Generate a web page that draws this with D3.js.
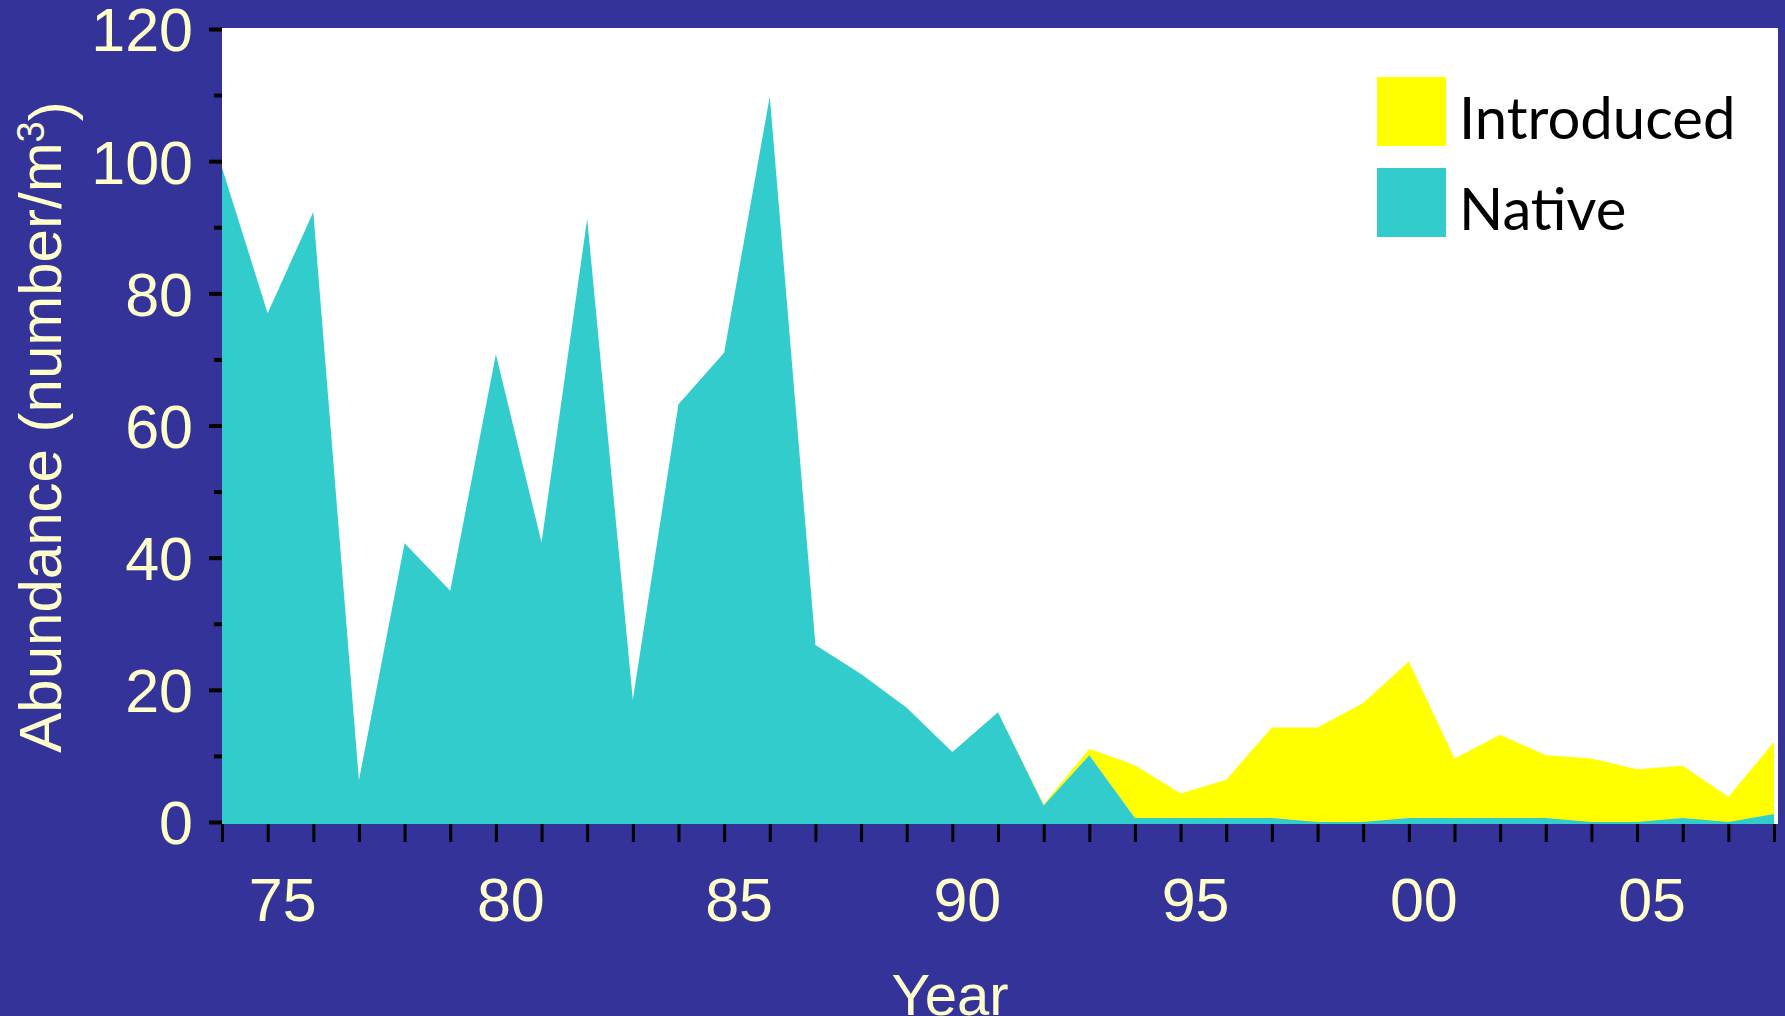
<!DOCTYPE html>
<html>
<head>
<meta charset="utf-8">
<script src="https://cdn.jsdelivr.net/npm/d3@7"></script>
<style>
  html, body { margin: 0; padding: 0; background: #333399; }
  svg { display: block; }
</style>
</head>
<body>
<script>
// ---- data ----
const years = [1974, 1975, 1976, 1977, 1978, 1979, 1980, 1981, 1982, 1983, 1984, 1985,
  1986, 1987, 1988, 1989, 1990, 1991, 1992, 1993, 1994, 1995, 1996, 1997, 1998, 1999,
  2000, 2001, 2002, 2003, 2004, 2005, 2006, 2007, 2008];
const native = [99, 77, 92.3, 6.3, 42.2, 35, 70.8, 42.3, 91.3, 18.5, 63.2, 71, 109.8,
  26.8, 22.4, 17.3, 10.6, 16.6, 2.5, 10.1, 0.6, 0.6, 0.6, 0.6, 0, 0, 0.6, 0.6, 0.6,
  0.6, 0, 0, 0.6, 0, 1.2];
const introduced = [0, 0, 0, 0, 0, 0, 0, 0, 0, 0, 0, 0, 0, 0, 0, 0, 0, 0, 0.2, 1.0,
  8.0, 3.7, 5.8, 13.7, 14.3, 18, 23.7, 9.0, 12.6, 9.5, 9.6, 8, 7.9, 3.8, 10.9];
const seriesKeys = ["native", "introduced"];
const seriesNames = {native: "Native", introduced: "Introduced"};
const legendOrder = ["introduced", "native"];
const yMajorTicks = [0, 20, 40, 60, 80, 100, 120];
const yMinorTicks = [10, 30, 50, 70, 90, 110];
const xLabelYears = [1975, 1980, 1985, 1990, 1995, 2000, 2005];
const xLabels = ["75", "80", "85", "90", "95", "00", "05"];
const yTitle = "Abundance (number/m";
const xTitle = "Year";

// ---- layout ----
const W = 1785, H = 1016;
const plot = {left: 222, right: 1778, top: 28, bottom: 824};
const colors = {bg: "#333399", native: "#33CCCC", introduced: "#FFFF00", text: "#FFFFCC"};
const axisFont = "'Liberation Sans', Arial, sans-serif";

const svg = d3.select("body").append("svg").attr("width", W).attr("height", H);
svg.append("rect").attr("width", W).attr("height", H).attr("fill", colors.bg);
svg.append("rect").attr("x", plot.left).attr("y", plot.top)
  .attr("width", plot.right - plot.left).attr("height", plot.bottom - plot.top)
  .attr("fill", "#ffffff");

const x = d3.scaleLinear().domain([1974, 2008]).range([222, 1774]);
const y = d3.scaleLinear().domain([0, 120]).range([822, 29]);

const table = years.map((yr, i) => ({year: yr, native: native[i], introduced: introduced[i]}));
const stacked = d3.stack().keys(seriesKeys)(table);

const area = d3.area()
  .x(d => x(d.data.year))
  .y0(d => d[0] === 0 ? plot.bottom : y(d[0]))
  .y1(d => y(d[1]));

// draw introduced first then native on top (stacked, native at bottom)
svg.append("g").selectAll("path").data(stacked.slice().reverse()).join("path")
  .attr("d", area)
  .attr("fill", d => colors[d.key]);

// ---- y axis ----
const yAxisMajor = d3.axisLeft(y).tickValues(yMajorTicks).tickSize(13).tickPadding(16)
  .tickFormat(d3.format("d"));
const gy = svg.append("g").attr("transform", `translate(${plot.left},0)`).call(yAxisMajor);
gy.select(".domain").remove();
gy.selectAll(".tick line").attr("stroke", "#000").attr("stroke-width", 4);
gy.selectAll(".tick text").attr("fill", colors.text)
  .style("font-family", axisFont).style("font-size", "61px").attr("dy", "0.36em");

const yAxisMinor = d3.axisLeft(y).tickValues(yMinorTicks).tickSize(8).tickFormat("");
const gy2 = svg.append("g").attr("transform", `translate(${plot.left},0)`).call(yAxisMinor);
gy2.select(".domain").remove();
gy2.selectAll(".tick line").attr("stroke", "#000").attr("stroke-width", 4);

// ---- x axis ----
const xAxis = d3.axisBottom(x).tickValues(years).tickSize(18).tickFormat("");
const gx = svg.append("g").attr("transform", `translate(0,${plot.bottom})`).call(xAxis);
gx.select(".domain").remove();
gx.selectAll(".tick line").attr("stroke", "#000").attr("stroke-width", 3);

svg.append("g").selectAll("text").data(xLabelYears).join("text")
  .attr("x", d => x(d) + 15)
  .attr("y", 921)
  .attr("text-anchor", "middle")
  .attr("fill", colors.text)
  .style("font-family", axisFont).style("font-size", "61px")
  .text((d, i) => xLabels[i]);

// ---- titles ----
svg.append("text")
  .attr("x", 950).attr("y", 1015)
  .attr("text-anchor", "middle")
  .attr("fill", colors.text)
  .style("font-family", axisFont).style("font-size", "58px")
  .text(xTitle);

const yt = svg.append("text")
  .attr("transform", "translate(61,427) rotate(-90)")
  .attr("text-anchor", "middle")
  .attr("fill", colors.text)
  .style("font-family", axisFont).style("font-size", "60px");
yt.append("tspan").text(yTitle);
yt.append("tspan").text("3").attr("dy", "-0.45em").style("font-size", "38px");
yt.append("tspan").text(")").attr("dy", "0.45em");

// ---- legend ----
const legend = svg.append("g");
legendOrder.forEach((k, i) => {
  const ly = 77 + i * 91;
  legend.append("rect").attr("x", 1377).attr("y", ly).attr("width", 69).attr("height", 69)
    .attr("fill", colors[k]);
  legend.append("text").attr("x", 1459).attr("y", ly + 62)
    .attr("fill", "#000")
    .style("font-family", "Lato, 'Open Sans', sans-serif").style("font-size", "58px")
    .text(seriesNames[k]);
});
</script>
</body>
</html>
